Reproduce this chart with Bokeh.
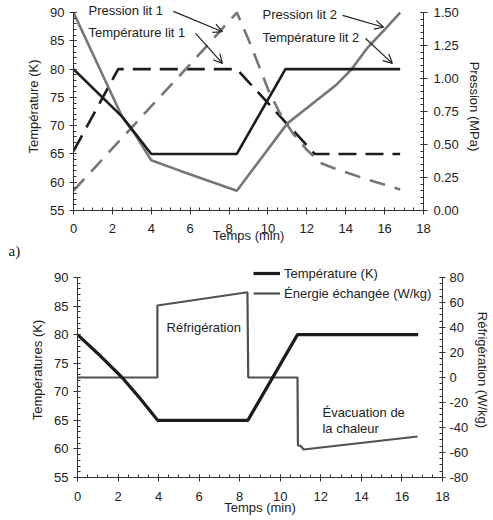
from bokeh.plotting import figure
from bokeh.models import (Range1d, LinearAxis, SingleIntervalTicker, PrintfTickFormatter,
                          Label, Arrow, OpenHead, Legend, LegendItem, Title)
from bokeh.layouts import column, row
from bokeh.embed import file_html
from bokeh.resources import INLINE

FONT = "Liberation Sans"

# ---------------- (a) data ----------------
t_temp1 = [0, 2.3, 8.4, 12.4, 16.8]
temp1 = [65.5, 80, 80, 65, 65]                      # K, Température lit 1
t_temp2 = [0, 2.5, 4.0, 8.4, 10.9, 16.8]
temp2 = [80, 71.6, 65, 65, 80, 80]                  # K, Température lit 2
t_pres1 = [0, 2.5, 4.5, 6.2, 8.4, 9.1, 10.0, 10.6, 11.3, 12.0, 12.7, 13.4, 15.0, 16.8]
pres1 = [0.15, 0.55, 0.87, 1.14, 1.50, 1.26, 0.92, 0.74, 0.58, 0.46, 0.36, 0.32, 0.24, 0.16]  # MPa
t_pres2 = [0, 2.5, 3.2, 4.0, 5.5, 8.4, 11.0, 12.2, 13.5, 14.3, 15.1, 16.0, 16.8]
pres2 = [1.50, 0.71, 0.57, 0.38, 0.30, 0.15, 0.66, 0.80, 0.95, 1.07, 1.23, 1.37, 1.50]  # MPa

# ---------------- (b) data ----------------
tb_temp = [0, 1, 2.2, 3, 3.95, 8.4, 10.85, 16.8]
b_temp = [80, 76.7, 72.5, 69.2, 65, 65, 80, 80]
tb_energy = [0, 3.94, 3.94, 8.38, 8.42, 10.85, 10.87, 11.0, 11.15, 16.77]
b_energy = [0, 0, 57.6, 68.2, 0, 0, -54.4, -54.6, -57.6, -47.2]

BLACK = "#1c1c1c"
GRAY = "#767676"
AX = "#333333"

# axis extents (frame extends a little above the axes so the texts fit)
T_MIN, T_MAX = 55, 90
P_MIN, P_MAX = 0.0, 1.5
W_MIN, W_MAX = -80, 80
T1_TOP = T_MAX + 1.77                                  # top chart frame top
P1_TOP = (T1_TOP - T_MIN) / (T_MAX - T_MIN) * (P_MAX - P_MIN)
T2_TOP = T_MAX + 2.62                                  # bottom chart frame top
W2_TOP = W_MIN + (T2_TOP - T_MIN) / (T_MAX - T_MIN) * (W_MAX - W_MIN)


def style_axis(ax):
    ax.axis_line_color = AX
    ax.major_tick_line_color = AX
    ax.minor_tick_line_color = AX
    ax.major_tick_in = 3
    ax.major_tick_out = 4
    ax.minor_tick_in = 3
    ax.minor_tick_out = 0
    ax.major_label_text_font = FONT
    ax.major_label_text_font_size = "13px"
    ax.major_label_text_color = "#222222"
    ax.axis_label_text_font = FONT
    ax.axis_label_text_font_size = "13px"
    ax.axis_label_text_font_style = "normal"
    ax.axis_label_text_color = "#222222"


# ======================= figure (a) =======================
p1 = figure(width=493, height=262, output_backend="svg", toolbar_location=None,
            x_range=Range1d(0, 18), y_range=Range1d(T_MIN, T1_TOP),
            min_border_left=73, min_border_right=70, min_border_top=2, min_border_bottom=52)
p1.extra_y_ranges = {"p": Range1d(P_MIN, P1_TOP)}
p1.outline_line_color = None
p1.grid.visible = False

p1.line(t_temp1, temp1, line_color=BLACK, line_width=2.6, line_dash="18 9")
p1.line(t_pres1, pres1, y_range_name="p", line_color=GRAY, line_width=2.6, line_dash="16 10")
p1.line(t_pres2, pres2, y_range_name="p", line_color=GRAY, line_width=2.6)
p1.line(t_temp2, temp2, line_color=BLACK, line_width=2.6)

p1.xaxis.ticker = SingleIntervalTicker(interval=2, num_minor_ticks=4)
p1.yaxis.ticker = SingleIntervalTicker(interval=5, num_minor_ticks=5)
p1.yaxis.bounds = (T_MIN, T_MAX)
p1.xaxis.axis_label = "Temps (min)"
p1.yaxis.axis_label = "Température (K)"
for ax in p1.xaxis + p1.yaxis:
    style_axis(ax)
p1.xaxis.major_label_standoff = 9
p1.xaxis.axis_label_standoff = -8
p1.yaxis.major_label_standoff = 5
p1.yaxis.axis_label_standoff = 6

rax1 = LinearAxis(y_range_name="p", axis_label="Pression (MPa)", bounds=(P_MIN, P_MAX),
                  ticker=SingleIntervalTicker(interval=0.25, num_minor_ticks=5),
                  formatter=PrintfTickFormatter(format="%.2f"))
style_axis(rax1)
rax1.major_label_standoff = 6
rax1.axis_label_standoff = 5
p1.add_layout(rax1, "right")

ann1 = [("Pression lit 1", 0.77, 90.35), ("Température lit 1", 0.77, 86.5),
        ("Pression lit 2", 9.72, 89.6), ("Température lit 2", 9.72, 85.6)]
for txt, x, y in ann1:
    p1.add_layout(Label(x=x, y=y, text=txt, text_font=FONT, text_font_size="13px",
                        text_color="#222222", text_baseline="middle"))
arr1 = [(5.14, 90.2, 7.66, 86.6), (6.28, 86.3, 7.66, 81.0),
        (13.84, 89.5, 15.95, 87.4), (15.02, 85.4, 16.4, 81.0)]
for x0, y0, x1, y1 in arr1:
    p1.add_layout(Arrow(x_start=x0, y_start=y0, x_end=x1, y_end=y1, line_color="#222222",
                        line_width=1.2,
                        end=OpenHead(size=9, line_color="#222222", line_width=1.2)))

p1.add_layout(Title(text="a)", align="left", offset=-65, standoff=-9,
                    text_font="Liberation Serif", text_font_size="15px",
                    text_font_style="normal", text_color="#222222"), "below")

# ======================= figure (b) =======================
p2 = figure(width=493, height=258, output_backend="svg", toolbar_location=None,
            x_range=Range1d(0, 18), y_range=Range1d(T_MIN, T2_TOP),
            min_border_left=77, min_border_right=51, min_border_top=0, min_border_bottom=43)
p2.extra_y_ranges = {"w": Range1d(W_MIN, W2_TOP)}
p2.outline_line_color = None
p2.grid.visible = False

r_e = p2.line(tb_energy, b_energy, y_range_name="w", line_color="#505050", line_width=2.2)
r_t = p2.line(tb_temp, b_temp, line_color=BLACK, line_width=3.2)

p2.xaxis.ticker = SingleIntervalTicker(interval=2, num_minor_ticks=4)
p2.yaxis.ticker = SingleIntervalTicker(interval=5, num_minor_ticks=5)
p2.yaxis.bounds = (T_MIN, T_MAX)
p2.xaxis.axis_label = "Temps (min)"
p2.yaxis.axis_label = "Températures (K)"
for ax in p2.xaxis + p2.yaxis:
    style_axis(ax)
p2.xaxis.major_label_standoff = 10
p2.xaxis.axis_label_standoff = -4
p2.yaxis.major_label_standoff = 5
p2.yaxis.axis_label_standoff = 6

rax2 = LinearAxis(y_range_name="w", axis_label="Réfrigération (W/kg)", bounds=(W_MIN, W_MAX),
                  ticker=SingleIntervalTicker(interval=20, num_minor_ticks=4),
                  formatter=PrintfTickFormatter(format="%d"))
style_axis(rax2)
rax2.major_tick_out = 3
rax2.major_label_standoff = 4
rax2.axis_label_standoff = 4
p2.add_layout(rax2, "right")

legend = Legend(items=[LegendItem(label="Température (K)", renderers=[r_t]),
                       LegendItem(label="Énergie échangée (W/kg)", renderers=[r_e])],
                location=(176, 175), padding=0, margin=0, spacing=2,
                glyph_width=27, glyph_height=18, label_height=18, label_standoff=4,
                label_text_font=FONT, label_text_font_size="13px", label_text_color="#222222",
                background_fill_alpha=0, border_line_alpha=0)
p2.add_layout(legend)

ann2 = [("Réfrigération", 4.39, 81.24), ("Évacuation de", 12.08, 66.4), ("la chaleur", 12.08, 63.6)]
for txt, x, y in ann2:
    p2.add_layout(Label(x=x, y=y, text=txt, text_font=FONT, text_font_size="13px",
                        text_color="#222222", text_baseline="middle"))

layout = column(row(p1), row(p2), spacing=0)
open("out.html", "w").write(file_html(layout, INLINE))
